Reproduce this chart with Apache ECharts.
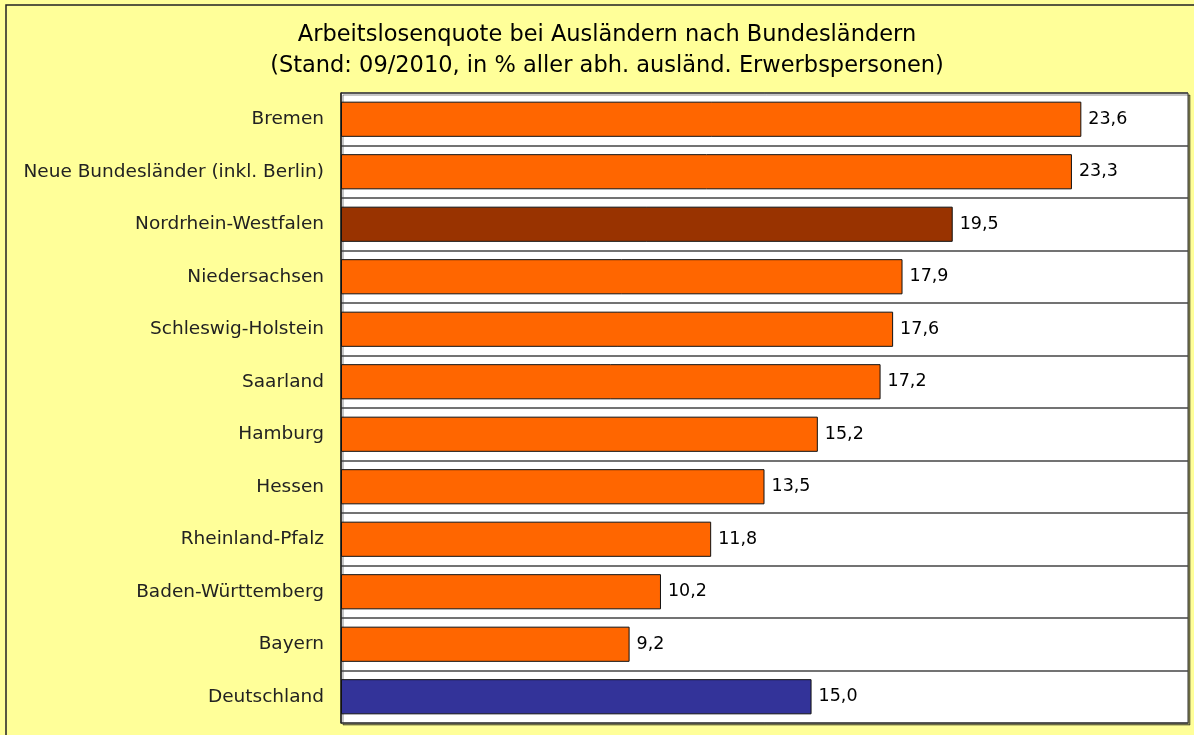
<!DOCTYPE html>
<html>
<head>
<meta charset="utf-8">
<script src="https://cdn.jsdelivr.net/npm/echarts@6/dist/echarts.min.js"></script>
<style>
  html, body { margin: 0; padding: 0; background: #FFFF99; }
  #main { width: 1194px; height: 735px; }
</style>
</head>
<body>
<div id="main"></div>
<script>
var laender = ['Bremen', 'Neue Bundesländer (inkl. Berlin)', 'Nordrhein-Westfalen', 'Niedersachsen',
  'Schleswig-Holstein', 'Saarland', 'Hamburg', 'Hessen', 'Rheinland-Pfalz',
  'Baden-Württemberg', 'Bayern', 'Deutschland'];
var quote = [23.6, 23.3, 19.5, 17.9, 17.6, 17.2, 15.2, 13.5, 11.8, 10.2, 9.2, 15.0];
var farben = ['#FF6600', '#FF6600', '#993300', '#FF6600', '#FF6600', '#FF6600',
  '#FF6600', '#FF6600', '#FF6600', '#FF6600', '#FF6600', '#333399'];

var fontName = '"DejaVu Sans", Verdana, sans-serif';

var myChart = echarts.init(document.getElementById('main'));

var option = {
  backgroundColor: '#FFFF99',
  animation: false,
  title: {
    text: 'Arbeitslosenquote bei Ausländern nach Bundesländern\n(Stand: 09/2010, in % aller abh. ausländ. Erwerbspersonen)',
    left: 602,
    top: 15,
    textAlign: 'center',
    textStyle: {
      fontFamily: fontName,
      fontSize: 22.5,
      fontWeight: 'normal',
      color: '#000',
      lineHeight: 31
    }
  },
  graphic: [{
    type: 'rect',
    shape: { x: 6, y: 5, width: 1200, height: 740 },
    style: { fill: 'none', stroke: '#222', lineWidth: 1.5 },
    silent: true
  }],
  grid: {
    left: 341,
    top: 93,
    width: 847,
    height: 630,
    show: true,
    backgroundColor: '#fff',
    borderColor: '#333',
    borderWidth: 1,
    shadowColor: 'rgba(0,0,0,0.45)',
    shadowOffsetX: 2,
    shadowOffsetY: 2,
    shadowBlur: 0
  },
  xAxis: {
    type: 'value',
    min: 0,
    max: 27,
    show: false,
    splitLine: { show: false }
  },
  yAxis: {
    type: 'category',
    data: laender,
    inverse: true,
    axisLine: { show: true, lineStyle: { color: '#222', width: 1.5 } },
    axisTick: { show: true, inside: true, length: 4, alignWithLabel: true, lineStyle: { color: '#222' } },
    axisLabel: {
      margin: 17,
      fontFamily: fontName,
      fontSize: 18.5,
      color: '#222'
    },
    splitLine: { show: true, lineStyle: { color: '#444', width: 1.5 } }
  },
  series: [{
    type: 'bar',
    data: quote.map(function (v, i) {
      return { value: v, itemStyle: { color: farben[i] } };
    }),
    barCategoryGap: '33%',
    itemStyle: { borderColor: '#111', borderWidth: 1 },
    label: {
      show: true,
      position: 'right',
      distance: 7,
      fontFamily: fontName,
      fontSize: 17.5,
      color: '#000',
      formatter: function (p) { return p.value.toFixed(1).replace('.', ','); }
    }
  }]
};

myChart.setOption(option);
</script>
</body>
</html>
